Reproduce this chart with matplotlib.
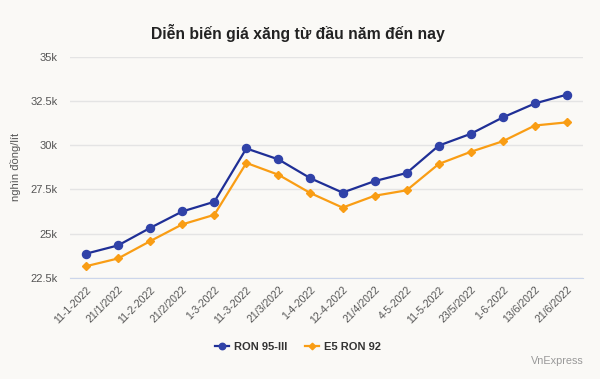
import matplotlib
matplotlib.use("Agg")
import matplotlib.pyplot as plt
from matplotlib.ticker import FuncFormatter

# data (thousand VND / litre)
dates = ["11-1-2022", "21/1/2022", "11-2-2022", "21/2/2022", "1-3-2022",
         "11-3-2022", "21/3/2022", "1-4-2022", "12-4-2022", "21/4/2022",
         "4-5-2022", "11-5-2022", "23/5/2022", "1-6-2022", "13/6/2022", "21/6/2022"]
ron95 = [23.86, 24.33, 25.32, 26.25, 26.80, 29.82, 29.20, 28.13, 27.32, 27.97,
         28.43, 29.98, 30.65, 31.58, 32.37, 32.87]
e5ron92 = [23.15, 23.59, 24.57, 25.52, 26.06, 29.00, 28.33, 27.29, 26.47, 27.14,
           27.45, 28.94, 29.63, 30.23, 31.12, 31.30]

bg = "#faf9f6"
plt.rcParams["font.family"] = ["Liberation Sans", "DejaVu Sans"]

fig = plt.figure(figsize=(6, 3.79), dpi=100, facecolor=bg)
ax = fig.add_axes([0.1167, 0.2673, 0.855, 0.5823], facecolor=bg)

x = list(range(len(dates)))
ax.plot(x, ron95, color="#1f2f96", lw=1.6, marker="o", ms=5.8,
        mfc="#3042a8", mec="#3042a8", label="RON 95-III", zorder=3)
ax.plot(x, e5ron92, color="#f99d14", lw=1.6, marker="D", ms=4.2,
        mfc="#f99d14", mec="#f99d14", label="E5 RON 92", zorder=3)

ax.set_xlim(-0.5, len(dates) - 0.5)
ax.set_ylim(22.5, 35)
ax.set_yticks([22.5, 25, 27.5, 30, 32.5, 35])
ax.yaxis.set_major_formatter(FuncFormatter(lambda v, p: f"{v:g}k"))
ax.set_xticks(x)
ax.set_xticklabels(dates, rotation=45, ha="right", rotation_mode="anchor")
ax.tick_params(axis="x", length=0, labelsize=7.6, colors="#555555", pad=5)
ax.tick_params(axis="y", length=0, labelsize=8, colors="#555555", pad=9)
ax.grid(axis="y", color="#e4e4e4", lw=1)
for s in ["top", "right", "left"]:
    ax.spines[s].set_visible(False)
ax.spines["bottom"].set_color("#ccd6eb")
ax.set_ylabel("nghìn đồng/lít", fontsize=8, color="#555555")
ax.yaxis.set_label_coords(-0.095, 0.5)

fig.text(0.497, 0.913, "Diễn biến giá xăng từ đầu năm đến nay",
         ha="center", va="center", fontsize=11.3, fontweight="bold", color="#222222")

leg = fig.legend(loc="center", bbox_to_anchor=(0.497, 0.084), ncol=2, frameon=False,
                 fontsize=8, handlelength=1.2, handletextpad=0.5, columnspacing=1.6,
                 markerscale=0.8)
for t in leg.get_texts():
    t.set_fontweight("bold")
    t.set_color("#333333")

fig.text(0.973, 0.048, "VnExpress", ha="right", va="center", fontsize=7.8, color="#999999")

fig.savefig("out.png", dpi=100, facecolor=bg)
